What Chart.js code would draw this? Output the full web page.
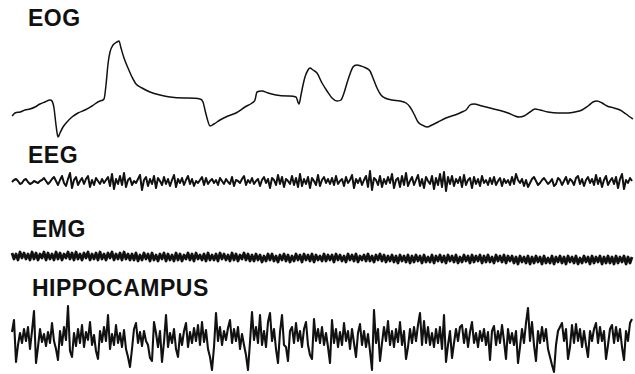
<!DOCTYPE html>
<html>
<head>
<meta charset="utf-8">
<script src="https://cdn.jsdelivr.net/npm/chart.js"></script>
<style>
  html, body { margin: 0; padding: 0; background: #fff; }
  #page { position: relative; width: 635px; height: 374px; overflow: hidden; background: #fff; }
  .lbl { position: absolute; font-family: "Liberation Sans", Arial, sans-serif; font-weight: bold;
         font-size: 23px; line-height: 23px; color: #111; letter-spacing: 0.5px; white-space: nowrap; }
  canvas { position: absolute; left: 0; }
</style>
</head>
<body>
<div id="page">
  <div class="lbl" style="left:28px; top:7px;">EOG</div>
  <div class="lbl" style="left:28px; top:144px;">EEG</div>
  <div class="lbl" style="left:32px; top:218px;">EMG</div>
  <div class="lbl" style="left:32px; top:277px;">HIPPOCAMPUS</div>
  <canvas id="eog" width="635" height="115" style="top:30px"></canvas>
  <canvas id="eeg" width="635" height="36" style="top:164px"></canvas>
  <canvas id="emg" width="635" height="36" style="top:240px"></canvas>
  <canvas id="hip" width="635" height="74" style="top:300px"></canvas>
</div>
<script>
'use strict';

// ---- data (time in s, amplitude in arbitrary units, up = positive) ----

// EOG: slow eye movements, irregularly sampled at the turning points
const eogTime = [
  0.00, 0.03, 0.08, 0.13, 0.18, 0.23, 0.28, 0.33, 0.38, 0.40, 0.42, 0.44, 0.46, 0.48, 0.51, 0.55,
  0.60, 0.66, 0.73, 0.80, 0.88, 0.92, 0.94, 0.96, 0.98, 1.01, 1.05, 1.07, 1.09, 1.12, 1.16, 1.20,
  1.24, 1.30, 1.38, 1.48, 1.58, 1.73, 1.88, 1.91, 1.93, 1.95, 1.98, 2.02, 2.08, 2.16, 2.24, 2.33,
  2.40, 2.43, 2.45, 2.50, 2.56, 2.64, 2.76, 2.84, 2.87, 2.89, 2.91, 2.93, 2.96, 2.98, 3.01, 3.05,
  3.10, 3.15, 3.20, 3.25, 3.29, 3.32, 3.35, 3.38, 3.41, 3.45, 3.49, 3.54, 3.58, 3.61, 3.65, 3.69,
  3.73, 3.80, 3.88, 3.94, 3.98, 4.02, 4.06, 4.10, 4.15, 4.20, 4.26, 4.34, 4.43, 4.50, 4.54, 4.58,
  4.62, 4.70, 4.78, 4.86, 4.96, 5.03, 5.07, 5.12, 5.18, 5.23, 5.28, 5.36, 5.46, 5.56, 5.63, 5.70,
  5.76, 5.81, 5.85, 5.90, 5.95, 6.02, 6.08, 6.14, 6.18, 6.21
];
const eogValues = [
  24, 27, 28, 30, 31, 33, 36, 38, 40, 39, 32, 15, 3, 7, 13, 18,
  23, 27, 30, 34, 39, 41, 55, 76, 88, 95, 98, 99, 92, 82, 72, 63,
  56, 52, 48, 45, 43, 42, 41, 38, 30, 22, 14, 16, 20, 24, 27, 33,
  37, 40, 48, 49, 47, 45, 44, 43, 36, 45, 55, 63, 70, 72, 70, 67,
  57, 49, 42, 39, 40, 47, 57, 66, 73, 75, 74, 72, 69, 62, 52, 45,
  42, 40, 39, 37, 33, 26, 18, 15, 13, 15, 18, 22, 25, 28, 30, 35,
  36, 34, 32, 30, 27, 24, 23, 24, 28, 31, 30, 28, 27, 27, 28, 30,
  34, 38, 39, 37, 34, 32, 30, 26, 23, 21
];

// EEG, EMG and hippocampal traces: one sample every 20 ms
const sampleStep = 0.02;

const eegValues = [
  0, 2, 3, 1, -2, -1, 2, 3, 0, -2, -1, 1, 0, -1, 1, 2, 4, 1, -2, 0,
  3, 5, 1, -3, 2, 6, -1, -4, 3, 9, -6, 2, 5, -3, 1, 4, -2, 3, 6, -5,
  2, -3, 4, 1, -2, 3, -1, 2, 5, -4, 8, -7, 3, -2, 6, -3, 9, -5, 2, 4,
  -3, 1, -1, 3, 7, -8, 2, 5, -4, 3, -2, 6, -6, 4, 1, -3, 5, -2, 3, -4,
  2, 7, -5, 3, -1, 4, -3, 2, 6, -2, 3, -4, 1, -1, 2, 5, -3, 4, -2, 1,
  3, -1, 2, -3, 4, 1, -2, 3, 0, -2, 5, -4, 2, 1, -1, 3, 6, -3, 2, -1,
  4, -2, 1, 3, -4, 2, 5, -1, 3, -6, 4, 2, -3, 7, -2, 5, -5, 3, 1, -2,
  6, -3, 4, -5, 8, -4, 3, -2, 5, -6, 4, 1, -3, 7, -4, 2, 5, -1, 3, -2,
  4, -3, 6, -2, 1, 3, -4, 5, -1, 2, 7, -6, 3, -1, 4, -3, 2, 6, -5, 11,
  -8, 4, 2, -3, 6, -5, 3, -2, 5, -1, 8, -6, 2, 4, -5, 6, -3, 9, -4, 1,
  5, -3, 2, 7, -4, 3, -6, 5, 1, -2, 6, -7, 4, -3, 8, -5, 10, -9, 5, -2,
  6, -4, 3, -1, 5, -5, 7, -3, 2, 4, -6, 5, -2, 3, -4, 6, -1, 2, -3, 4,
  -2, 5, -3, 1, 4, -4, 3, -1, 2, -3, 5, -2, 8, 2, -1, 3, -4, 2, -5, -1,
  3, 5, 1, -3, -1, 2, 4, 1, -2, 0, 3, -4, -2, 4, 2, -3, 1, 5, -2, 3,
  1, -3, 4, 6, -2, 3, -4, 2, 5, -1, 3, -3, 7, -2, 4, -5, 2, 6, -3, 1,
  4, -2, 5, -6, 3, 8, -7, 2, -1, 4, 1
];

const emgValues = [
  5, -1, 4, -2, 6, 0, 5, -1, 4, -2, 6, -1, 5, -2, 4, 0, 6, -2, 5, -1,
  4, -2, 6, -1, 5, -2, 4, 0, 6, -1, 5, -2, 6, -1, 4, -2, 5, 0, 6, -2,
  4, -1, 5, -2, 6, -1, 4, -2, 5, 0, 6, -2, 4, -1, 5, -2, 6, -1, 4, -2,
  4, -2, 5, -3, 3, -2, 5, -1, 4, -3, 5, -2, 3, -3, 4, -1, 5, -3, 4, -2,
  3, -3, 5, -2, 4, -3, 3, -1, 5, -2, 4, -3, 5, -1, 3, -2, 4, -3, 5, -2,
  3, -2, 4, -3, 5, -1, 4, -2, 3, -3, 5, -2, 4, -3, 3, -1, 5, -2, 4, -3,
  3, -3, 4, -2, 3, -4, 2, -3, 4, -2, 4, -3, 2, -4, 3, -2, 4, -3, 3, -4,
  2, -3, 4, -2, 3, -4, 4, -2, 3, -3, 4, -4, 3, -2, 2, -3, 4, -3, 3, -2,
  3, -4, 4, -2, 3, -3, 2, -4, 4, -2, 3, -3, 4, -4, 2, -2, 3, -3, 4, -3,
  2, -4, 3, -2, 4, -3, 3, -4, 2, -3, 3, -4, 2, -5, 3, -3, 2, -4, 3, -5,
  2, -4, 3, -3, 2, -5, 3, -4, 1, -4, 3, -5, 2, -3, 3, -4, 2, -5, 3, -3,
  2, -4, 3, -5, 1, -4, 3, -3, 2, -5, 3, -4, 2, -3, 3, -5, 2, -4, 3, -4,
  1, -5, 3, -3, 2, -4, 3, -5, 2, -3, 2, -5, 1, -6, 2, -4, 1, -5, 2, -6,
  1, -5, 2, -4, 1, -6, 2, -5, 0, -5, 2, -6, 1, -4, 2, -5, 1, -6, 2, -4,
  1, -5, 2, -6, 0, -5, 2, -4, 1, -6, 2, -5, 1, -4, 2, -6, 1, -5, 2, -5,
  1, -6, 2, -5, 1, -4, 2, -6, 1, -5, 1
];

const hippocampusValues = [
  5, 17, -25, -8, 4, -6, 8, -4, 10, -12, 6, 26, -26, -10, 8, -5, 3, -9, 5, -6,
  14, -4, -12, -23, 6, -8, 10, -3, 31, -14, -20, 4, -9, 8, -6, 12, -10, 5, -3, 15,
  -8, 2, -14, -22, 6, -5, 10, -4, 22, -12, 3, -8, 12, -6, 4, -10, 7, -12, -20, -30,
  -12, 8, 14, -6, 5, -9, 6, -4, -8, -21, -24, 15, 4, -10, 6, -25, -5, 22, -10, 4,
  -6, 8, -12, -20, 3, -8, 6, 14, -10, 5, -6, 9, -4, 12, -8, 15, -5, 7, -12, -20,
  -33, -10, 24, -4, 10, -8, 6, -3, 9, 17, -6, 8, -4, 10, -12, 3, -8, -18, -33, -5,
  25, -3, 10, -6, 22, -8, 6, -10, 15, 24, -4, 8, -12, -26, 5, 22, -8, -10, -24, 6,
  10, -6, 14, -4, 6, -10, 8, 15, -8, -18, -22, 18, -4, 8, -6, 10, -8, 4, -10, -26,
  17, -6, 8, -10, 5, -8, 14, -4, 6, -12, 8, -6, -20, 4, 13, -8, 6, -10, 3, -14,
  -33, 27, -6, 8, -24, -6, 10, -4, 16, -8, 6, -10, 8, -5, 15, -8, 6, -22, -10, 8,
  -6, 10, -4, 12, 24, -8, 16, -6, 10, -8, 4, -10, 8, -6, 10, -12, 22, -25, -8, 6,
  -21, -6, 8, -4, 10, 12, -6, 8, -10, 5, 15, -6, 4, -10, 6, -4, 8, -8, 5, -23,
  6, 11, -8, 6, -6, 12, -4, -22, 8, -6, 4, -8, 6, -26, -10, 8, -6, 14, 29, -4,
  15, -8, -24, 6, -6, 10, -4, 8, -12, -20, -28, -35, -8, 6, 10, 14, -4, 8, -22, -10,
  12, -6, 13, -4, 8, -10, 6, -8, -20, 6, -4, 8, 14, -6, 10, -4, 6, -22, -8, 8,
  12, -6, 10, -4, 8, -10, -23, 6, -4, 14, 18
];

// ---- charts ----
const timeMin = -0.12, timeMax = 6.23;

function uniformPoints(values) {
  return values.map((v, i) => ({ x: i * sampleStep, y: v }));
}

function drawTrace(id, points, yMin, yMax, lineWidth, smooth) {
  return new Chart(document.getElementById(id), {
    type: 'line',
    data: {
      datasets: [{
        data: points,
        borderColor: '#111',
        borderWidth: lineWidth,
        borderJoinStyle: 'round',
        pointRadius: 0,
        tension: smooth ? 0.4 : 0,
        cubicInterpolationMode: smooth ? 'monotone' : 'default',
        fill: false,
        clip: false,
      }],
    },
    options: {
      responsive: false,
      animation: false,
      devicePixelRatio: 1,
      layout: { padding: 0 },
      plugins: { legend: { display: false }, tooltip: { enabled: false } },
      scales: {
        x: { type: 'linear', min: timeMin, max: timeMax, display: false },
        y: { type: 'linear', min: yMin, max: yMax, display: false },
      },
    },
  });
}

drawTrace('eog', eogTime.map((t, i) => ({ x: t, y: eogValues[i] })), -5, 110, 1.5, true);
drawTrace('eeg', uniformPoints(eegValues), -18, 18, 2, false);
drawTrace('emg', uniformPoints(emgValues), -18, 18, 2.8, false);
drawTrace('hip', uniformPoints(hippocampusValues), -37, 37, 2.1, false);
</script>
</body>
</html>
